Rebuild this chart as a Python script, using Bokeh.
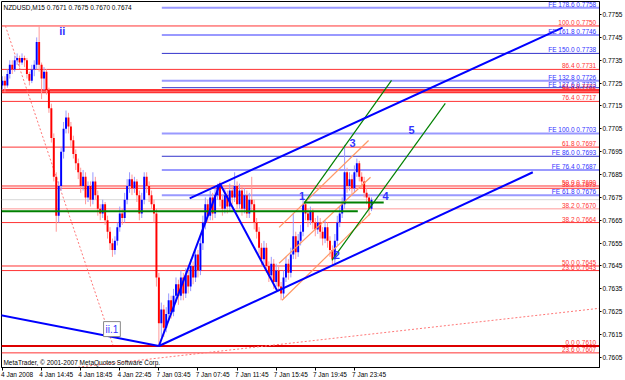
from bokeh.plotting import figure
from bokeh.models import Range1d, FixedTicker, Label, LinearAxis
from bokeh.core.properties import value
from bokeh.embed import file_html
from bokeh.resources import INLINE

FONT = "Liberation Sans"

# ---------------- price data (15-minute bars) ----------------
first_open = 0.7724
close = [0.7726, 0.7724, 0.7729, 0.7733, 0.7731, 0.7735, 0.7736, 0.7734, 0.7736, 0.7735,
         0.7729, 0.7726, 0.7731, 0.7733, 0.7743, 0.7733, 0.7727, 0.7730, 0.7722, 0.7714,
         0.7701, 0.7684, 0.7667, 0.7680, 0.7695, 0.7705, 0.7710, 0.7706, 0.7700, 0.7694,
         0.7690, 0.7686, 0.7680, 0.7684, 0.7675, 0.7680, 0.7674, 0.7682, 0.7676, 0.7670,
         0.7668, 0.7672, 0.7665, 0.7660, 0.7655, 0.7652, 0.7656, 0.7662, 0.7668, 0.7666,
         0.7674, 0.7680, 0.7683, 0.7679, 0.7682, 0.7676, 0.7668, 0.7674, 0.7684, 0.7680,
         0.7676, 0.7672, 0.7668, 0.7640, 0.7620, 0.7626, 0.7618, 0.7624, 0.7630, 0.7625,
         0.7632, 0.7637, 0.7632, 0.7640, 0.7633, 0.7641, 0.7636, 0.7645, 0.7640, 0.7650,
         0.7643, 0.7655, 0.7664, 0.7672, 0.7667, 0.7675, 0.7668, 0.7676, 0.7680, 0.7674,
         0.7670, 0.7676, 0.7671, 0.7678, 0.7675, 0.7680, 0.7672, 0.7678, 0.7670, 0.7676,
         0.7668, 0.7674, 0.7672, 0.7664, 0.7660, 0.7653, 0.7648, 0.7653, 0.7645, 0.7641,
         0.7646, 0.7638, 0.7643, 0.7636, 0.7633, 0.7640, 0.7646, 0.7642, 0.7650, 0.7658,
         0.7651, 0.7656, 0.7660, 0.7672, 0.7668, 0.7665, 0.7669, 0.7664, 0.7661, 0.7664,
         0.7660, 0.7657, 0.7662, 0.7656, 0.7652, 0.7648, 0.7656, 0.7664, 0.7668, 0.7672,
         0.7686, 0.7680, 0.7683, 0.7679, 0.7686, 0.7690, 0.7684, 0.7682, 0.7677, 0.7675,
         0.7670, 0.7674]
high = [0.7728, 0.7728, 0.7731, 0.7735, 0.7735, 0.7737, 0.7738, 0.7737, 0.7738, 0.7737,
        0.7736, 0.7730, 0.7733, 0.7735, 0.7745, 0.7750, 0.7734, 0.7732, 0.7731, 0.7723,
        0.7716, 0.7703, 0.7686, 0.7682, 0.7697, 0.7708, 0.7713, 0.7712, 0.7708, 0.7702,
        0.7696, 0.7692, 0.7688, 0.7687, 0.7686, 0.7682, 0.7682, 0.7686, 0.7684, 0.7678,
        0.7672, 0.7674, 0.7673, 0.7667, 0.7662, 0.7657, 0.7658, 0.7664, 0.7671, 0.7670,
        0.7677, 0.7683, 0.7686, 0.7685, 0.7684, 0.7683, 0.7678, 0.7677, 0.7686, 0.7686,
        0.7682, 0.7678, 0.7674, 0.7670, 0.7642, 0.7629, 0.7628, 0.7627, 0.7633, 0.7632,
        0.7635, 0.7640, 0.7639, 0.7643, 0.7642, 0.7644, 0.7643, 0.7648, 0.7647, 0.7653,
        0.7652, 0.7658, 0.7667, 0.7675, 0.7674, 0.7678, 0.7677, 0.7679, 0.7681, 0.7682,
        0.7676, 0.7679, 0.7678, 0.7681, 0.7680, 0.7686, 0.7682, 0.7681, 0.7680, 0.7679,
        0.7678, 0.7677, 0.7684, 0.7674, 0.7666, 0.7662, 0.7655, 0.7656, 0.7655, 0.7647,
        0.7649, 0.7648, 0.7646, 0.7645, 0.7638, 0.7643, 0.7649, 0.7648, 0.7653, 0.7668,
        0.7660, 0.7659, 0.7663, 0.7675, 0.7674, 0.7670, 0.7671, 0.7670, 0.7666, 0.7667,
        0.7666, 0.7662, 0.7665, 0.7664, 0.7658, 0.7654, 0.7659, 0.7667, 0.7671, 0.7675,
        0.7698, 0.7688, 0.7686, 0.7685, 0.7689, 0.7692, 0.7691, 0.7686, 0.7684, 0.7679,
        0.7676, 0.7675]
low = [0.7722, 0.7721, 0.7723, 0.7727, 0.7729, 0.7730, 0.7733, 0.7732, 0.7733, 0.7732,
       0.7727, 0.7724, 0.7725, 0.7728, 0.7731, 0.7730, 0.7718, 0.7722, 0.7720, 0.7712,
       0.7699, 0.7682, 0.7660, 0.7664, 0.7678, 0.7692, 0.7703, 0.7703, 0.7697, 0.7692,
       0.7687, 0.7683, 0.7677, 0.7678, 0.7672, 0.7673, 0.7671, 0.7672, 0.7674, 0.7667,
       0.7665, 0.7666, 0.7663, 0.7657, 0.7652, 0.7649, 0.7650, 0.7654, 0.7660, 0.7663,
       0.7664, 0.7672, 0.7677, 0.7676, 0.7677, 0.7673, 0.7665, 0.7666, 0.7672, 0.7677,
       0.7673, 0.7670, 0.7664, 0.7636, 0.7610, 0.7614, 0.7614, 0.7616, 0.7621, 0.7622,
       0.7623, 0.7629, 0.7628, 0.7630, 0.7630, 0.7631, 0.7633, 0.7634, 0.7637, 0.7638,
       0.7640, 0.7641, 0.7652, 0.7661, 0.7664, 0.7665, 0.7665, 0.7666, 0.7674, 0.7671,
       0.7667, 0.7668, 0.7668, 0.7669, 0.7672, 0.7673, 0.7670, 0.7670, 0.7667, 0.7668,
       0.7666, 0.7666, 0.7669, 0.7661, 0.7657, 0.7650, 0.7645, 0.7646, 0.7642, 0.7638,
       0.7639, 0.7635, 0.7636, 0.7634, 0.7630, 0.7631, 0.7638, 0.7639, 0.7640, 0.7648,
       0.7648, 0.7649, 0.7654, 0.7658, 0.7665, 0.7662, 0.7663, 0.7661, 0.7658, 0.7659,
       0.7657, 0.7654, 0.7655, 0.7653, 0.7649, 0.7645, 0.7646, 0.7654, 0.7662, 0.7666,
       0.7670, 0.7677, 0.7678, 0.7676, 0.7677, 0.7684, 0.7682, 0.7679, 0.7675, 0.7672,
       0.7667, 0.7669]

# ---------------- axes ----------------
time_ticks = [0, 16, 32, 48, 64, 80, 96, 112, 128, 144]
time_labels = ["4 Jan 2008", "4 Jan 14:45", "4 Jan 18:45", "4 Jan 22:45", "7 Jan 03:45",
               "7 Jan 07:45", "7 Jan 11:45", "7 Jan 15:45", "7 Jan 19:45", "7 Jan 23:45"]
price_ticks = [0.7605, 0.7615, 0.7625, 0.7635, 0.7645, 0.7655, 0.7665, 0.7675,
               0.7685, 0.7695, 0.7705, 0.7715, 0.7725, 0.7735, 0.7745, 0.7755]
price_tick_labels = ["0.7605", "0.7615", "0.7625", "0.7635", "0.7645", "0.7655", "0.7665", "0.7675",
                     "0.7685", "0.7695", "0.7705", "0.7715", "0.7725", "0.7735", "0.7745", "0.7755"]
X_MIN, X_MAX = -0.4, 244.3
Y_MIN, Y_MAX = 0.76006, 0.77607
# MetaTrader prints each time label starting at its tick; Bokeh centres labels,
# so the label row is drawn by a second axis shifted by half a label width (in bars).
LABEL_SHIFT = 6.0

# ---------------- Fibonacci retracement levels (red) ----------------
ret_prices = [0.7750, 0.7731, 0.7722, 0.7721, 0.7717, 0.7697, 0.7680, 0.7679,
              0.7670, 0.7664, 0.7645, 0.7643, 0.7610, 0.7607]
ret_labels = ["100.0  0.7750", "86.4  0.7731", "61.8  0.7722", "50.0  0.7721", "76.4  0.7717",
              "61.8  0.7697", "50.0  0.7680", "38.2  0.7679", "38.2  0.7670", "38.2  0.7664",
              "50.0  0.7645", "23.6  0.7643", "0.0  0.7610", "23.6  0.7607"]
ret_colors = ["#ff3333", "#ff3333", "#ff3333", "#ff3333", "#ff3333", "#ff3333", "#ff3333",
              "#ff3333", "#ff9999", "#ff3333", "#ff3333", "#ff3333", "#dd0000", "#ff3333"]
ret_widths = [1, 1, 2, 2, 1, 1, 1, 1, 1, 1, 1, 1, 2, 1]

# ---------------- Fibonacci expansion levels (blue) ----------------
fe_start = 65.2
fe_prices = [0.7758, 0.7746, 0.7738, 0.7726, 0.7723, 0.7703, 0.7693, 0.7687, 0.7676]
fe_labels = ["FE 178.6  0.7758", "FE 161.8  0.7746", "FE 150.0  0.7738", "FE 132.8  0.7726",
             "FE 127.6  0.7723", "FE 100.0  0.7703", "FE 86.0  0.7693", "FE 76.4  0.7687",
             "FE 61.8  0.7676"]
fe_colors = ["#9999ff", "#9999ff", "#3333cc", "#9999ff", "#3333cc", "#9999ff", "#3333cc",
             "#9999ff", "#9999ff"]
fe_widths = [2, 2, 1, 2, 1, 2, 1, 2, 2]

current_price = 0.7674

# ---------------- drawn trend lines (bar, price anchors) ----------------
blue_x0 = [-1.0, 64.0, 89.0, 76.6, 64.0]
blue_y0 = [0.76235, 0.7610, 0.7681, 0.76746, 0.7610]
blue_x1 = [64.0, 89.0, 112.5, 229.2, 217.0]
blue_y1 = [0.7610, 0.7681, 0.7634, 0.77493, 0.76860]

green_x0 = [123.4, 134.8, -0.4, 123.4]
green_y0 = [0.76724, 0.76475, 0.76689, 0.76728]
green_x1 = [159.2, 181.2, 145.4, 156.0]
green_y1 = [0.77262, 0.77161, 0.76689, 0.76728]
green_w = [1.2, 1.2, 2, 2]

orange_x0 = [113.2, 113.2, 114.4]
orange_y0 = [0.76619, 0.76462, 0.76300]
orange_x1 = [149.8, 150.6, 150.6]
orange_y1 = [0.76999, 0.76838, 0.76680]

dotted_x0 = [1.2, 14.7]
dotted_y0 = [0.7750, 0.75988]
dotted_x1 = [45.2, 244.3]
dotted_y1 = [0.76104, 0.76265]

wave_text = ["ii", "1", "2", "3", "4", "5"]
wave_x = [24.5, 122.6, 136.8, 143.3, 156.8, 167.4]
wave_y = [0.77480, 0.76755, 0.76497, 0.76986, 0.76755, 0.77047]

# ---------------- figure ----------------
p = figure(width=625, height=380, x_range=Range1d(X_MIN, X_MAX), y_range=Range1d(Y_MIN, Y_MAX),
           output_backend="svg", toolbar_location=None, y_axis_location="right",
           min_border_left=1, min_border_top=1, min_border_right=23, min_border_bottom=13)
p.background_fill_color = "white"
p.border_fill_color = "white"
p.outline_line_color = "black"
p.xgrid.visible = False
p.ygrid.visible = False

time_axis_labels = LinearAxis(ticker=FixedTicker(ticks=[t + LABEL_SHIFT for t in time_ticks]),
                              major_label_overrides={t + LABEL_SHIFT: l for t, l in zip(time_ticks, time_labels)})
p.add_layout(time_axis_labels, "below")

for ax in (p.xaxis[0], p.yaxis[0], time_axis_labels):
    ax.major_label_text_font = FONT
    ax.major_label_text_font_size = "6.5px"
    ax.major_label_text_color = "black"
    ax.axis_line_color = "black"
    ax.major_tick_line_color = "black"
    ax.major_tick_in = 0
    ax.major_tick_out = 2
    ax.minor_tick_line_color = None
    ax.major_label_standoff = 1

# main time axis: tick marks at the bar times, no text
p.xaxis[0].ticker = FixedTicker(ticks=time_ticks)
p.xaxis[0].major_label_overrides = {t: "" for t in time_ticks}
p.xaxis[0].major_label_standoff = 0
p.xaxis[0].major_tick_out = 3
# label row
time_axis_labels.axis_line_color = None
time_axis_labels.major_tick_line_color = None
time_axis_labels.major_tick_out = 0
time_axis_labels.major_label_standoff = 0

p.yaxis[0].ticker = FixedTicker(ticks=price_ticks)
p.yaxis[0].major_label_overrides = {t: l for t, l in zip(price_ticks, price_tick_labels)}

# retracement levels
p.segment(x0=[X_MIN] * len(ret_prices), x1=[X_MAX] * len(ret_prices), y0=ret_prices, y1=ret_prices,
          line_color=ret_colors, line_width=ret_widths)
# expansion levels
p.segment(x0=[fe_start] * len(fe_prices), x1=[X_MAX] * len(fe_prices), y0=fe_prices, y1=fe_prices,
          line_color=fe_colors, line_width=fe_widths)
# current price line
p.segment(x0=[X_MIN], x1=[X_MAX], y0=[current_price], y1=[current_price],
          line_color="#b0b0b0", line_width=1, line_dash="1 1")

# dotted red lines
p.segment(x0=dotted_x0, y0=dotted_y0, x1=dotted_x1, y1=dotted_y1,
          line_color="#ff7777", line_width=1, line_dash="2 2")

# candles
opens = [first_open] + close[:-1]
bars = list(range(len(close)))
up = [i for i in bars if close[i] >= opens[i]]
dn = [i for i in bars if close[i] < opens[i]]
hi = [max(high[i], opens[i], close[i]) for i in bars]
lo = [min(low[i], opens[i], close[i]) for i in bars]
p.segment(x0=up, x1=up, y0=[lo[i] for i in up], y1=[hi[i] for i in up], line_color="#9999ff", line_width=1)
p.segment(x0=dn, x1=dn, y0=[lo[i] for i in dn], y1=[hi[i] for i in dn], line_color="#ff9999", line_width=1)
p.vbar(x=up, width=0.8, bottom=[opens[i] for i in up], top=[close[i] for i in up],
       fill_color="#0000ff", line_color=None)
p.vbar(x=dn, width=0.8, bottom=[close[i] for i in dn], top=[opens[i] for i in dn],
       fill_color="#ff0000", line_color=None)

# trend lines
p.segment(x0=orange_x0, y0=orange_y0, x1=orange_x1, y1=orange_y1, line_color="#ff9966", line_width=1.2)
p.segment(x0=green_x0, y0=green_y0, x1=green_x1, y1=green_y1, line_color="#008000", line_width=green_w)
p.segment(x0=blue_x0, y0=blue_y0, x1=blue_x1, y1=blue_y1, line_color="#0000ff", line_width=2)

# level labels
p.text(x=[X_MAX - 0.6] * len(ret_prices), y=ret_prices, text=ret_labels, text_color="#ff3333",
       text_font=value(FONT), text_font_size="6.5px", text_align="right", text_baseline="bottom")
p.text(x=[X_MAX - 0.6] * len(fe_prices), y=fe_prices, text=fe_labels, text_color="#3333ff",
       text_font=value(FONT), text_font_size="6.5px", text_align="right", text_baseline="bottom")

# wave labels
p.text(x=wave_x, y=wave_y, text=wave_text, text_color="#3333ff", text_font=value(FONT),
       text_font_size="11px", text_font_style="bold", text_align="center", text_baseline="middle")

p.add_layout(Label(x=44.8, y=0.76174, text="ii.1", text_color="#3333ff", text_font=FONT,
                   text_font_size="10px", text_align="center", text_baseline="middle",
                   border_line_color="#888888", background_fill_color="white", padding=2))

p.add_layout(Label(x=0.4, y=0.77598, text="NZDUSD,M15  0.7671 0.7675 0.7670 0.7674",
                   text_color="black", text_font=FONT, text_font_size="6.5px",
                   text_align="left", text_baseline="top"))
p.add_layout(Label(x=0.4, y=0.76012, text="MetaTrader, \u00a9 2001-2007 MetaQuotes Software Corp.",
                   text_color="black", text_font=FONT, text_font_size="6.5px",
                   text_align="left", text_baseline="bottom"))
# current price tag on the price scale
p.add_layout(Label(x=603, x_units="screen", y=current_price, text="0.7674", text_color="white",
                   text_font=FONT, text_font_size="6.5px", text_align="left", text_baseline="middle",
                   background_fill_color="black", level="overlay"))

open("out.html", "w").write(file_html(p, INLINE))
